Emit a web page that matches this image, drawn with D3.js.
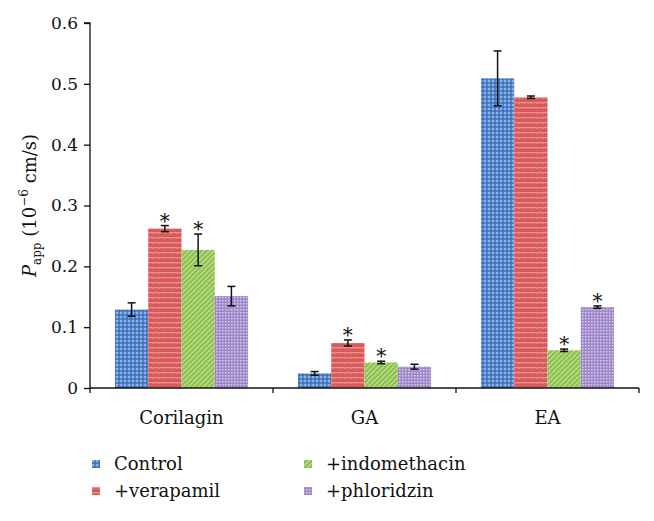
<!DOCTYPE html>
<html><head><meta charset="utf-8">
<script src="https://cdn.jsdelivr.net/npm/d3@7"></script>
<style>body{margin:0;background:#fff}svg{display:block}</style>
</head><body><div id="chart"></div>
<script>
const categories = ["Corilagin", "GA", "EA"];
const seriesNames = ["Control", "+verapamil", "+indomethacin", "+phloridzin"];
const control = [0.129, 0.024, 0.509];
const verapamil = [0.262, 0.074, 0.478];
const indomethacin = [0.227, 0.042, 0.062];
const phloridzin = [0.151, 0.035, 0.133];
const errControl = [0.011, 0.003, 0.045];
const errVerapamil = [0.005, 0.005, 0.002];
const errIndomethacin = [0.026, 0.002, 0.002];
const errPhloridzin = [0.016, 0.004, 0.002];
const sigControl = [false, false, false];
const sigVerapamil = [true, true, false];
const sigIndomethacin = [true, true, true];
const sigPhloridzin = [false, false, true];
const yTicks = [0, 0.1, 0.2, 0.3, 0.4, 0.5, 0.6];

const values = [control, verapamil, indomethacin, phloridzin];
const errs = [errControl, errVerapamil, errIndomethacin, errPhloridzin];
const sigs = [sigControl, sigVerapamil, sigIndomethacin, sigPhloridzin];
const colors = ["#5585c9", "#d95a5a", "#8dc150", "#9f88c9"];
const FONT = "'DejaVu Serif', 'Liberation Serif', 'Noto Serif', 'Times New Roman', serif";

const W = 654, H = 521;
const m = {left: 90, right: 15, top: 23, bottom: 133};
const svg = d3.select("#chart").append("svg").attr("width", W).attr("height", H);
const defs = svg.append("defs");

function pat(id, size, bg, draw) {
  const p = defs.append("pattern").attr("id", id).attr("patternUnits", "userSpaceOnUse")
    .attr("width", size[0]).attr("height", size[1]);
  p.append("rect").attr("width", size[0]).attr("height", size[1]).attr("fill", bg);
  draw(p);
}
pat("p0", [4, 4], colors[0], p => {
  p.append("rect").attr("x", 0).attr("y", 0).attr("width", 2).attr("height", 2).attr("fill", "#8fb0e0");
  p.append("rect").attr("x", 2).attr("y", 2).attr("width", 2).attr("height", 2).attr("fill", "#3f70bb");
});
pat("p1", [6, 5], colors[1], p => {
  p.append("path").attr("d", "M0,3.5 L1.5,2 L3,3.5 L4.5,2 L6,3.5").attr("fill", "none")
    .attr("stroke", "#f2b8b0").attr("stroke-width", 1);
});
pat("p2", [5, 5], colors[2], p => {
  p.append("path").attr("d", "M-1,6 L6,-1 M-1,1 L1,-1 M4,6 L6,4").attr("stroke", "#c5e09a").attr("stroke-width", 1.2);
});
pat("p3", [3, 3], colors[3], p => {
  p.append("rect").attr("x", 0).attr("y", 0).attr("width", 1.5).attr("height", 1.5).attr("fill", "#d6cbeb");
});

const x0 = d3.scaleBand().domain(categories).range([m.left, W - m.right]).paddingInner(0).paddingOuter(0);
const x1 = d3.scaleBand().domain(d3.range(4)).range([0, x0.bandwidth()]).paddingInner(0).paddingOuter(0.75);
const y = d3.scaleLinear().domain([0, 0.6]).range([H - m.bottom, m.top]);

function txt(sel) { return sel.style("font-family", FONT).attr("fill", "#111"); }

const g = svg.append("g");
categories.forEach((c, ci) => {
  values.forEach((vals, si) => {
    const bx = x0(c) + x1(si);
    g.append("rect").attr("x", bx).attr("y", y(vals[ci])).attr("width", x1.bandwidth())
      .attr("height", y(0) - y(vals[ci])).attr("fill", `url(#p${si})`);
    const cx = bx + x1.bandwidth() / 2;
    const e = errs[si][ci];
    const top = y(vals[ci] + e), bot = y(vals[ci] - e);
    g.append("line").attr("x1", cx).attr("x2", cx).attr("y1", top).attr("y2", bot).attr("stroke", "#111").attr("stroke-width", 1.5);
    [top, bot].forEach(yy => g.append("line").attr("x1", cx - 4).attr("x2", cx + 4).attr("y1", yy).attr("y2", yy)
      .attr("stroke", "#111").attr("stroke-width", 1.5));
    if (sigs[si][ci]) {
      txt(g.append("text")).attr("x", cx).attr("y", top + 2).attr("text-anchor", "middle")
        .style("font-size", "20px").text("*");
    }
  });
});

const yAxis = d3.axisLeft(y).tickValues(yTicks).tickSize(6).tickPadding(6).tickFormat(d => d === 0 ? "0" : d3.format(".1f")(d));
const ya = svg.append("g").attr("transform", `translate(${m.left},0)`).call(yAxis);
ya.select(".domain").attr("d", `M-6,${y(0.6)}H0V${y(0)}`).attr("stroke", "#111").attr("stroke-width", 1.3);
ya.selectAll(".tick line").attr("stroke", "#111").attr("stroke-width", 1.3);
txt(ya.selectAll(".tick text")).style("font-size", "17px");

const xa = svg.append("g").attr("transform", `translate(0,${y(0)})`);
xa.append("line").attr("x1", m.left).attr("x2", W - m.right).attr("y1", 0).attr("y2", 0).attr("stroke", "#111").attr("stroke-width", 1.3);
const bounds = [m.left, ...categories.map(c => x0(c) + x0.bandwidth())];
bounds.forEach(b => xa.append("line").attr("x1", b).attr("x2", b).attr("y1", 0).attr("y2", 5).attr("stroke", "#111").attr("stroke-width", 1.3));
categories.forEach(c => txt(xa.append("text")).attr("x", x0(c) + x0.bandwidth() / 2).attr("y", 36)
  .attr("text-anchor", "middle").style("font-size", "18px").text(c));

const yl = txt(svg.append("text")).attr("transform", `translate(36,${(y(0) + y(0.6)) / 2}) rotate(-90)`)
  .attr("text-anchor", "middle").style("font-size", "18px");
yl.append("tspan").attr("font-style", "italic").text("P");
yl.append("tspan").attr("dy", 5).style("font-size", "12px").text("app");
yl.append("tspan").attr("dy", -5).text(" (10");
yl.append("tspan").attr("dy", -8).style("font-size", "12px").text("−6");
yl.append("tspan").attr("dy", 8).text(" cm/s)");

const legPos = [[92, 464], [92, 491], [304, 464], [304, 491]];
seriesNames.forEach((n, i) => {
  const [lx, ly] = legPos[i];
  svg.append("rect").attr("x", lx).attr("y", ly - 4).attr("width", 8).attr("height", 8).attr("fill", `url(#p${i})`);
  txt(svg.append("text")).attr("x", lx + 22).attr("y", ly + 6).style("font-size", "18px").text(n);
});
</script></body></html>
